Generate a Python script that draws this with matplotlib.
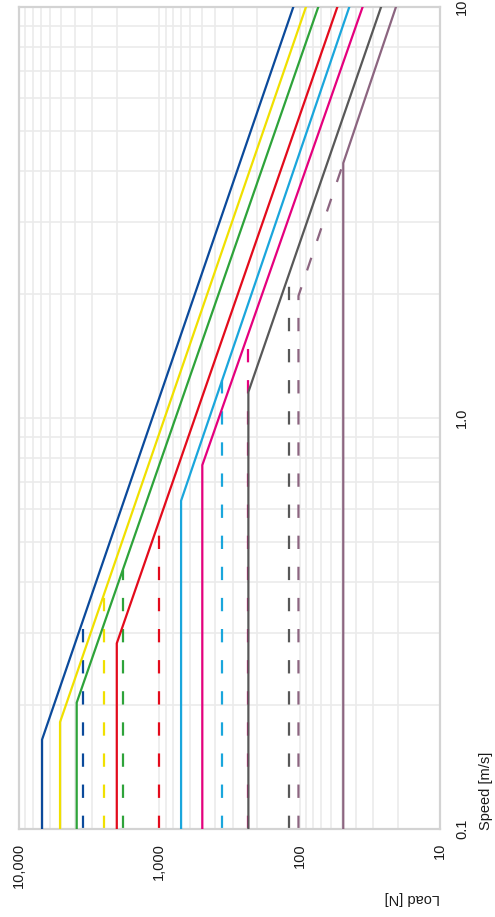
import numpy as np
import matplotlib.pyplot as plt

plt.rcParams['font.family'] = ['Liberation Sans', 'DejaVu Sans']

# Drive curves: constant load up to a break speed, then falling load up to 10 m/s
colors = ["#0b4a9b", "#f0e000", "#2ea33a", "#e30b1c", "#1aa6dc", "#e5007d", "#585858", "#8c6580"]
const_load = [6850, 5100, 3880, 2010, 700, 494, 232, 48.9]       # N
break_speed = [0.165, 0.182, 0.203, 0.283, 0.629, 0.768, 1.157, 4.17]  # m/s
end_load = [111, 90.2, 73.7, 53.9, 44.3, 35.6, 26.3, 20.6]        # N at 10 m/s
dash_load = [3516, 2466, 1824, 1000, 356, 232, 120, 102]          # N, dashed limits

x_ticks = [10000, 1000, 100, 10]
x_labels = ["10,000", "1,000", "100", "10"]
y_ticks = [0.1, 1, 10]
y_labels = ["0.1", "1.0", "10"]

fig = plt.figure(figsize=(4.95, 9.17), dpi=100)
ax = fig.add_axes([19/495, 1 - 829/917, (440 - 19)/495, (829 - 7)/917])

for c, lm, sb, le, ld in zip(colors, const_load, break_speed, end_load, dash_load):
    # solid curve (drawn rotated: x = load, y = speed)
    ax.plot([lm, lm, le], [0.1, sb, 10], color=c, lw=1.6, solid_joinstyle="miter", zorder=3)
    # speed where the (extended) sloped part reaches the dashed load
    k = (1 - np.log10(sb)) / (np.log10(le) - np.log10(lm))
    sd = 10 ** (np.log10(sb) + (np.log10(ld) - np.log10(lm)) * k)
    if ld > lm:
        xs, ys = [ld, ld, lm], [0.1, sd, sb]
    else:
        xs, ys = [ld, ld], [0.1, sd]
    ax.plot(xs, ys, color=c, lw=1.6, dashes=(6, 8), zorder=2)

ax.set_xscale("log")
ax.set_yscale("log")
ax.set_xlim(10000, 10)
ax.set_ylim(0.1, 10)

ax.grid(True, which="both", color="#ebebeb", lw=1.2, zorder=0)
ax.set_axisbelow(True)
for s in ax.spines.values():
    s.set_color("#d3d3d3")
    s.set_linewidth(1.6)

ax.set_xticks(x_ticks)
ax.set_xticklabels(x_labels, rotation=90, va="top", ha="center")
ax.set_yticks(y_ticks)
ax.set_yticklabels(y_labels, rotation=90, va="center", ha="left")
ax.yaxis.tick_right()
ax.tick_params(which="both", length=0, labelsize=10.5, colors="#1a1a1a")
ax.tick_params(axis="x", pad=10)
ax.tick_params(axis="y", pad=11)
ax.xaxis.set_minor_formatter(plt.NullFormatter())
ax.yaxis.set_minor_formatter(plt.NullFormatter())

fig.text(486/495, 1 - 830/917, "Speed [m/s]", rotation=90, ha="center", va="bottom",
         fontsize=10.5, color="#1a1a1a")
fig.text(440/495, 1 - 898/917, "Load [N]", rotation=180, ha="right", va="center",
         fontsize=10.5, color="#1a1a1a")

fig.savefig("out.png", dpi=100)
